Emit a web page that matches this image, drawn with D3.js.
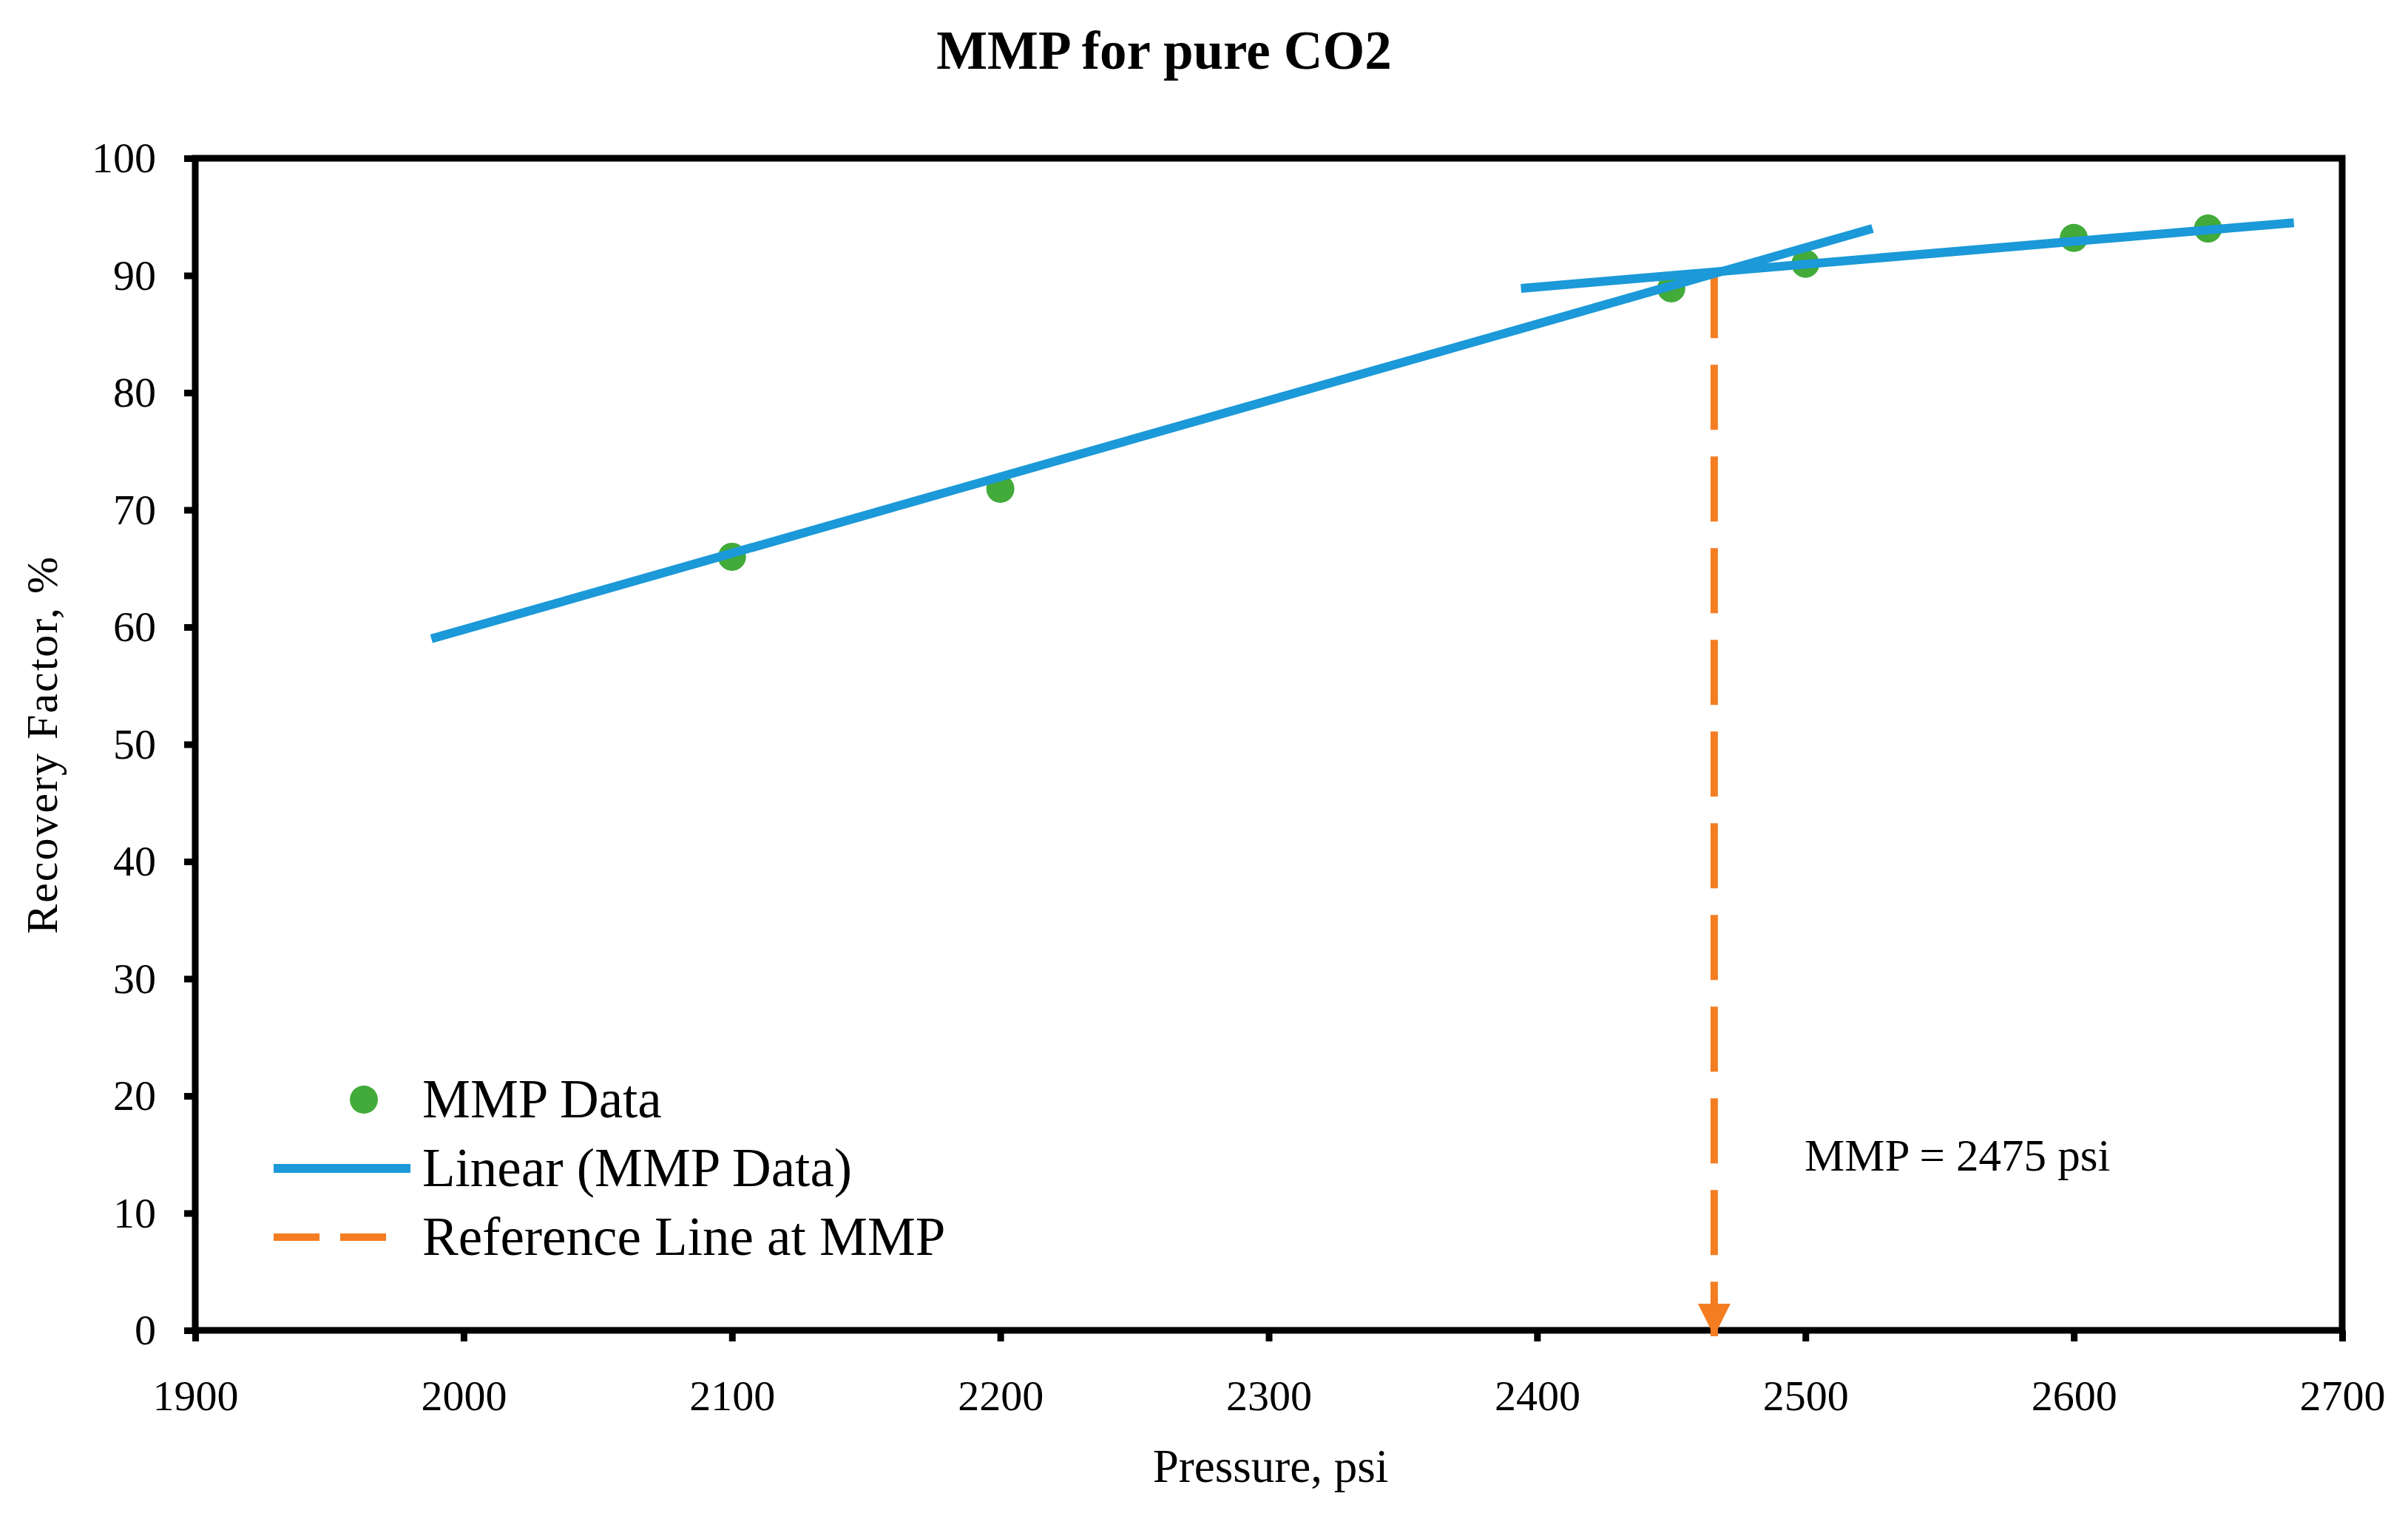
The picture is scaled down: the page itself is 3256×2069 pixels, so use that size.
<!DOCTYPE html>
<html>
<head>
<meta charset="utf-8">
<script src="https://cdn.jsdelivr.net/npm/d3@7"></script>
<style>
  html, body { margin: 0; padding: 0; background: #fff; overflow: hidden; }
  svg { display: block; }
</style>
</head>
<body>
<svg id="chart"></svg>
<script>
// Measured data points (pressure psi, recovery factor %)
const pressures = [2100, 2200, 2450, 2500, 2600, 2650];
const recovery = [66.0, 71.8, 88.9, 91.0, 93.2, 94.0];

// Trend lines as drawn (end points)
const trendLowX = [1988, 2525];
const trendLowY = [59.0, 94.0];
const trendHighX = [2394, 2682];
const trendHighY = [88.9, 94.5];

// Reference line at MMP
const mmpX = 2466;
const mmpTopY = 90.2;
const mmpLabel = 'MMP = 2475 psi';

const xTicks = [1900, 2000, 2100, 2200, 2300, 2400, 2500, 2600, 2700];
const yTicks = [0, 10, 20, 30, 40, 50, 60, 70, 80, 90, 100];
const legendLabels = ['MMP Data', 'Linear (MMP Data)', 'Reference Line at MMP'];

const width = 3256, height = 2069;
const margin = { top: 214, right: 89, bottom: 270, left: 264 };
const font = '"Palatino Linotype", "Book Antiqua", Palatino, "Liberation Serif", serif';
const colors = { green: '#42ab39', blue: '#1b99d8', orange: '#f47d22' };

const svg = d3.select('#chart')
  .attr('width', width)
  .attr('height', height)
  .attr('font-family', font);

const innerWidth = width - margin.left - margin.right;
const innerHeight = height - margin.top - margin.bottom;

const chart = svg.append('g')
  .attr('transform', `translate(${margin.left}, ${margin.top})`);

const x = d3.scaleLinear().domain([1900, 2700]).range([0, innerWidth]);
const y = d3.scaleLinear().domain([0, 100]).range([innerHeight, 0]);

// Title
svg.append('text')
  .attr('x', 1574)
  .attr('y', 93)
  .attr('text-anchor', 'middle')
  .attr('font-size', 73)
  .attr('font-weight', 'bold')
  .text('MMP for pure CO2');

// Axes
const xAxis = chart.append('g')
  .attr('transform', `translate(0, ${innerHeight})`)
  .call(d3.axisBottom(x).tickValues(xTicks).tickSize(15).tickPadding(52).tickFormat(d3.format('d')));

const yAxis = chart.append('g')
  .call(d3.axisLeft(y).tickValues(yTicks).tickSize(15).tickPadding(38));

[xAxis, yAxis].forEach(ax => {
  ax.attr('font-family', font).attr('font-size', 58);
  ax.select('.domain').remove();
  ax.selectAll('.tick line').attr('stroke', '#000').attr('stroke-width', 9);
  ax.selectAll('text').attr('fill', '#000');
});

// Plot frame
chart.append('rect')
  .attr('x', 0)
  .attr('y', 0)
  .attr('width', innerWidth)
  .attr('height', innerHeight)
  .attr('fill', 'none')
  .attr('stroke', '#000')
  .attr('stroke-width', 9);

// Axis labels
svg.append('text')
  .attr('x', 1718)
  .attr('y', 2004)
  .attr('text-anchor', 'middle')
  .attr('font-size', 63)
  .text('Pressure, psi');

svg.append('text')
  .attr('transform', 'rotate(-90)')
  .attr('x', -1007)
  .attr('y', 77)
  .attr('text-anchor', 'middle')
  .attr('font-size', 60)
  .attr('letter-spacing', 2)
  .text('Recovery Factor, %');

// Reference line at MMP with arrow
svg.append('defs').append('marker')
  .attr('id', 'arrow')
  .attr('viewBox', '0 0 10 10')
  .attr('refX', 10)
  .attr('refY', 5)
  .attr('markerWidth', 4.4)
  .attr('markerHeight', 4.4)
  .attr('markerUnits', 'strokeWidth')
  .attr('orient', 'auto')
  .append('path')
  .attr('d', 'M0,0 L10,5 L0,10 Z')
  .attr('fill', colors.orange);

chart.append('line')
  .attr('x1', x(mmpX))
  .attr('x2', x(mmpX))
  .attr('y1', y(mmpTopY))
  .attr('y2', y(0) + 8)
  .attr('stroke', colors.orange)
  .attr('stroke-width', 10)
  .attr('stroke-dasharray', '88 36')
  .attr('marker-end', 'url(#arrow)');

// Data points (drawn under the trend lines)
chart.selectAll('.point')
  .data(pressures.map((p, i) => ({ p, r: recovery[i] })))
  .enter()
  .append('circle')
  .attr('class', 'point')
  .attr('cx', d => x(d.p))
  .attr('cy', d => y(d.r))
  .attr('r', 19)
  .attr('fill', colors.green);

// Trend lines
const line = d3.line().x(d => x(d[0])).y(d => y(d[1]));
[[trendLowX, trendLowY], [trendHighX, trendHighY]].forEach(([xs, ys]) => {
  chart.append('path')
    .datum(xs.map((v, i) => [v, ys[i]]))
    .attr('d', line)
    .attr('fill', 'none')
    .attr('stroke', colors.blue)
    .attr('stroke-width', 12);
});

// MMP annotation
svg.append('text')
  .attr('x', 2440)
  .attr('y', 1583)
  .attr('font-size', 61)
  .text(mmpLabel);

// Legend
const legend = svg.append('g')
  .attr('transform', 'translate(370, 1487)');
const rowGap = 93;

legend.append('circle')
  .attr('cx', 122)
  .attr('cy', 0)
  .attr('r', 19)
  .attr('fill', colors.green);

legend.append('line')
  .attr('x1', 0).attr('x2', 185)
  .attr('y1', rowGap).attr('y2', rowGap)
  .attr('stroke', colors.blue)
  .attr('stroke-width', 12);

legend.append('line')
  .attr('x1', 0).attr('x2', 152)
  .attr('y1', rowGap * 2).attr('y2', rowGap * 2)
  .attr('stroke', colors.orange)
  .attr('stroke-width', 10)
  .attr('stroke-dasharray', '62 28');

legend.selectAll('.legend-text')
  .data(legendLabels)
  .enter()
  .append('text')
  .attr('class', 'legend-text')
  .attr('x', 201)
  .attr('y', (d, i) => i * rowGap + 24)
  .attr('font-size', 73)
  .text(d => d);
</script>
</body>
</html>
